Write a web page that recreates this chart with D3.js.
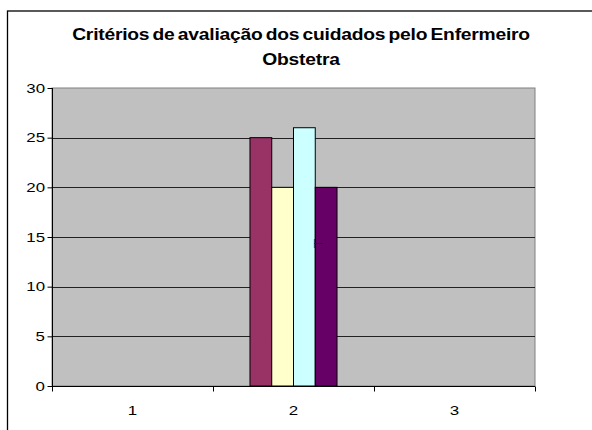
<!DOCTYPE html>
<html>
<head>
<meta charset="utf-8">
<script src="https://cdn.jsdelivr.net/npm/d3@7"></script>
<style>
  body { margin: 0; background: #fff; }
  text { font-family: "Liberation Sans", Arial, sans-serif; }
</style>
</head>
<body>
<div id="chart"></div>
<script>
// --- data ---
const categories = ["1", "2", "3"];
const seriesNames = ["s1", "s2", "s3", "s4"];
const seriesColors = ["#993366", "#FFFFCC", "#CCFFFF", "#660066"];
// one value per category; null = no bar
const s1 = [null, 25, null];
const s2 = [null, 20, null];
const s3 = [null, 26, null];
const s4 = [null, 20, null];
const yTicks = [0, 5, 10, 15, 20, 25, 30];
const titleLines = ["Critérios de avaliação dos cuidados pelo Enfermeiro", "Obstetra"];

const series = [s1, s2, s3, s4];
const width = 592, height = 430;
const plot = {left: 52, top: 88, right: 535, bottom: 386};

const svg = d3.select("#chart").append("svg")
    .attr("width", width)
    .attr("height", height);

// outer chart border (right and bottom fall outside the window)
svg.append("rect")
    .attr("x", 7.5).attr("y", 11)
    .attr("width", 620).attr("height", 460)
    .attr("fill", "#fff")
    .attr("stroke", "#000")
    .attr("stroke-width", 1.3);

// title: wide glyphs, tight word gaps like the original
const titleCx = 301, titleW = 458;
const tl = svg.append("g").selectAll("text")
    .data(titleLines)
    .enter().append("text")
    .attr("text-anchor", "middle")
    .attr("font-size", 16)
    .attr("font-weight", "bold")
    .attr("word-spacing", -1.5)
    .attr("letter-spacing", -0.2)
    .attr("y", (d, i) => 40 + i * 25)
    .text(d => d);
const natural = tl.node().getComputedTextLength();
const sx = titleW / natural;
tl.attr("transform", `translate(${titleCx},0) scale(${sx},1)`);

const x = d3.scaleBand().domain(categories).range([plot.left, plot.right]);
const y = d3.scaleLinear().domain([0, 30]).range([plot.bottom, plot.top]);
const inner = d3.scaleBand().domain(seriesNames)
    .range([0, x.bandwidth()]).paddingOuter(1.7);

// plot background
svg.append("rect")
    .attr("x", plot.left).attr("y", plot.top)
    .attr("width", plot.right - plot.left)
    .attr("height", plot.bottom - plot.top)
    .attr("fill", "#C0C0C0")
    .attr("stroke", "#808080");

// gridlines
svg.append("g")
    .selectAll("line")
    .data(yTicks.slice(1, -1))
    .enter().append("line")
    .attr("x1", plot.left).attr("x2", plot.right)
    .attr("y1", d => Math.round(y(d)) + 0.5)
    .attr("y2", d => Math.round(y(d)) + 0.5)
    .attr("stroke", "#222");

// bars
const rows = [];
series.forEach((vals, si) => vals.forEach((v, ci) => {
    if (v != null) rows.push({s: seriesNames[si], c: categories[ci], v, color: seriesColors[si]});
}));
svg.append("g")
    .selectAll("rect")
    .data(rows)
    .enter().append("rect")
    .attr("x", d => x(d.c) + inner(d.s))
    .attr("y", d => y(d.v))
    .attr("width", inner.bandwidth())
    .attr("height", d => y(0) - y(d.v))
    .attr("fill", d => d.color)
    .attr("stroke", "#000")
    .attr("stroke-width", 1);

// stray label mark on the edge between the 3rd and 4th bar
svg.append("text")
    .attr("x", x("2") + inner("s4") - 2)
    .attr("y", y(13.9))
    .attr("font-size", 12)
    .attr("fill", "#112222")
    .text("⊢");

const axisFont = "Liberation Sans, Arial, sans-serif";

// y axis
const yAxis = svg.append("g")
    .attr("transform", `translate(${plot.left + 0.5},0)`)
    .call(d3.axisLeft(y).tickValues(yTicks).tickSize(5).tickPadding(1));
yAxis.select(".domain").attr("stroke", "#000").attr("d", `M0,${plot.top}V${plot.bottom}`);
yAxis.selectAll("text")
    .attr("font-size", 13.5).attr("fill", "#000")
    .style("font-family", axisFont)
    .attr("transform", "scale(1.25,1)");

// x axis
const xAxis = svg.append("g")
    .attr("transform", `translate(0,${plot.bottom + 0.5})`)
    .call(d3.axisBottom(x).tickSize(0).tickPadding(19));
xAxis.select(".domain").attr("stroke", "#000").attr("d", `M${plot.left},0H${plot.right}`);
xAxis.selectAll(".tick text")
    .attr("font-size", 13.5).attr("fill", "#000")
    .style("font-family", axisFont)
    .attr("transform", "scale(1.25,1)");
// category boundary ticks
xAxis.append("g")
    .selectAll("line")
    .data(categories.concat("end"))
    .enter().append("line")
    .attr("x1", d => (d === "end" ? plot.right : x(d)) + 0.5)
    .attr("x2", d => (d === "end" ? plot.right : x(d)) + 0.5)
    .attr("y1", 0).attr("y2", 5)
    .attr("stroke", "#000");
</script>
</body>
</html>
